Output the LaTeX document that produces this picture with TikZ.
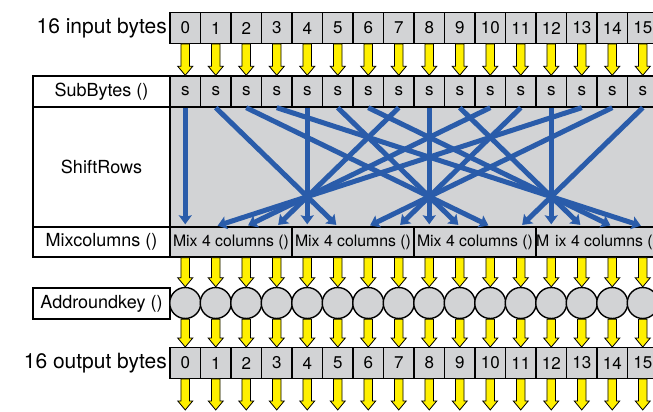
\documentclass[tikz,border=0pt]{standalone}
\usepackage{fontspec}
\setmainfont{TeX Gyre Heros}
\usetikzlibrary{arrows.meta, calc}

\definecolor{cellgray}{RGB}{210,211,213}
\definecolor{srblue}{RGB}{42,92,170}
\definecolor{byteyellow}{RGB}{255,240,0}

% block arrow going down from #1 to #2
\newcommand{\yarrow}[2]{%
  \draw[yarrowline] ($(#1)+(-4.3,0)$) -- ($(#2)+(-4.3,-9)$) -- ($(#2)+(-7.5,-9)$)
    -- (#2) -- ($(#2)+(7.5,-9)$) -- ($(#2)+(4.3,-9)$) -- ($(#1)+(4.3,0)$) -- cycle;}

\begin{document}
\begin{tikzpicture}[
            x = 1pt, y = -1pt, % picture measured in pixels, y going down
            cell/.style = {draw, line width = 1.4pt, fill = cellgray,
                minimum width = 30.5pt, minimum height = 30.5pt, inner sep = 0pt,
                font = \fontsize{17}{17}\selectfont},
            lblbox/.style = {draw, line width = 1.4pt, fill = white,
                minimum width = 137pt, inner sep = 0pt,
                font = \fontsize{18}{18}\selectfont},
            rowlbl/.style = {anchor = east, inner sep = 0pt,
                font = \fontsize{21}{21}\selectfont},
            mixbox/.style = {cell, minimum width = 122pt, minimum height = 30pt,
                font = \fontsize{15.8}{15.8}\selectfont},
            keycircle/.style = {circle, draw, line width = 1.4pt, fill = cellgray,
                minimum size = 31pt, inner sep = 0pt},
            yarrowline/.style = {draw = black, line width = 0.8pt, fill = byteyellow},
            srline/.style = {draw = srblue, line width = 5pt,
                -{Stealth[length = 9pt, width = 13pt, inset = 1.5pt]}, shorten > = 2pt}
        ]

        \useasboundingbox (0,0) rectangle (653,412);
        \clip (0,0) rectangle (653,412);

        % row labels
        \node[rowlbl] (inlbl) at (167,28) {16 input bytes};
        \node[rowlbl] (outlbl) at (167,363) {16 output bytes};
        \node[lblbox, minimum height = 31pt] (sublbl) at (101.5,91.5) {SubBytes ()};
        \node[lblbox, minimum height = 120pt] (shiftlbl) at (101.5,167) {ShiftRows};
        \node[lblbox, minimum height = 30pt] (mixlbl) at (101.5,242) {Mixcolumns ()};
        \node[lblbox, minimum height = 31pt] (addlbl) at (101.5,303.5) {Addroundkey ()};

        % grey field behind the shift lines
        \node[draw, line width = 1.4pt, fill = cellgray, anchor = north west,
            minimum width = 490pt, minimum height = 120pt, inner sep = 0pt]
            (srarea) at (170,107) {};

        % byte cells, s-boxes and key circles
        \foreach \i in {0,...,15} {
            \node[cell] (in\i) at (185.25+30.5*\i, 28) {\i};
            \node[cell, minimum height = 31pt] (sb\i) at (185.25+30.5*\i, 91.5) {s};
            \node[keycircle] (ark\i) at (185.25+30.5*\i, 303) {};
            \node[cell] (out\i) at (185.25+30.5*\i, 363) {\i};
        }

        % mix columns
        \node[mixbox] (mix0) at (231,242) {Mix 4 columns ()};
        \node[mixbox] (mix1) at (353,242) {Mix 4 columns ()};
        \node[mixbox] (mix2) at (475,242) {Mix 4 columns ()};
        \node[mixbox] (mix3) at (597,242) {M\hspace{6pt}ix 4 columns ()};

        \foreach \i in {0,...,15} {
            \coordinate (srout\i) at (sb\i |- mix0.north);
            \coordinate (mixout\i) at (ark\i |- mix0.south);
            \coordinate (end\i) at ($(out\i.south)+(0,31)$);
        }

        % shift rows
        \foreach \k/\m in {0/0, 1/13, 2/10, 3/7, 4/4, 5/1, 6/14, 7/11,
                           8/8, 9/5, 10/2, 11/15, 12/12, 13/9, 14/6, 15/3}
            \draw[srline] (sb\m.south) -- (srout\k);

        % yellow arrows
        \foreach \i in {0,...,15} {
            \yarrow{in\i.south}{sb\i.north}
            \yarrow{mixout\i}{ark\i.north}
            \yarrow{ark\i.south}{out\i.north}
            \yarrow{out\i.south}{end\i}
        }

    \end{tikzpicture}
\end{document}
